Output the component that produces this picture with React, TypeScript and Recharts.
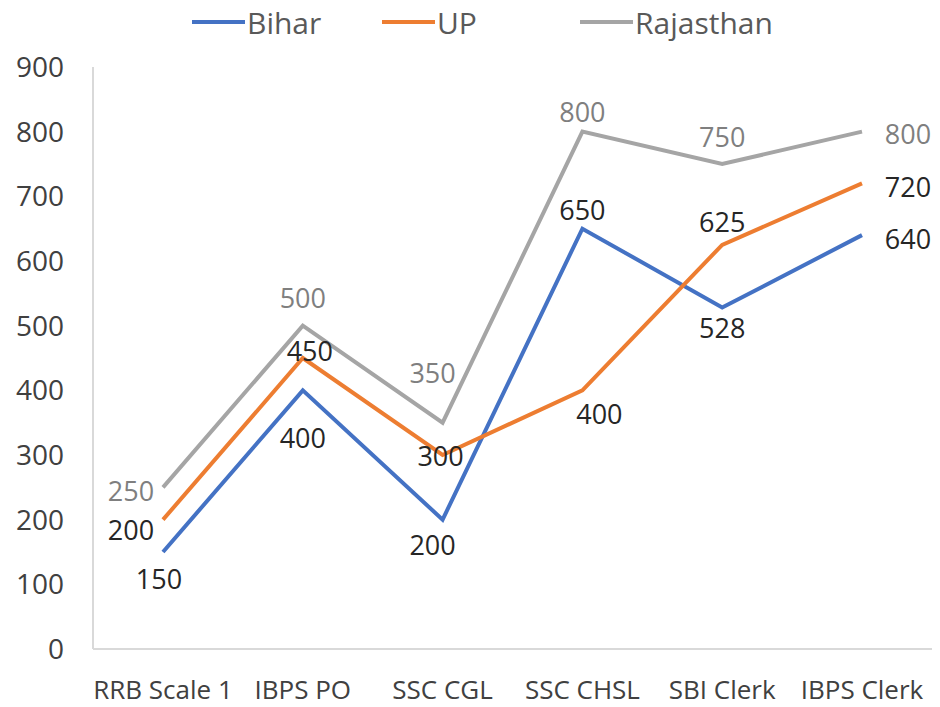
import React from 'react';
import { LineChart, Line, XAxis, YAxis, Legend, LabelList } from 'recharts';

const categories = ['RRB Scale 1', 'IBPS PO', 'SSC CGL', 'SSC CHSL', 'SBI Clerk', 'IBPS Clerk'];
const bihar = [150, 400, 200, 650, 528, 640];
const up = [200, 450, 300, 400, 625, 720];
const rajasthan = [250, 500, 350, 800, 750, 800];
const yTicks = [0, 100, 200, 300, 400, 500, 600, 700, 800, 900];
const seriesNames = ['Bihar', 'UP', 'Rajasthan'];

const data = categories.map((c, i) => ({ name: c, Bihar: bihar[i], UP: up[i], Rajasthan: rajasthan[i] }));

const FONT = '"Open Sans", Lato, sans-serif';
const COLORS: Record<string, string> = { Bihar: '#4472C4', UP: '#ED7D31', Rajasthan: '#A5A5A5' };
const LABEL_COLORS: Record<string, string> = { Bihar: '#262626', UP: '#262626', Rajasthan: '#7F7F7F' };

// label offsets (dx, dy) relative to each point
const LABEL_OFFSETS: Record<string, number[][]> = {
  Bihar: [[-4, 26], [0, 47], [-10, 25], [0, -19], [0, 20], [46, 3]],
  UP: [[-32, 10], [7, -8], [-2, 0], [17, 23], [0, -23], [46, 3]],
  Rajasthan: [[-32, 3], [0, -28], [-10, -50], [0, -20], [0, -28], [46, 2]],
};

const LEGEND_POS: Record<string, number> = { Bihar: 192, UP: 382, Rajasthan: 580 };

const makeLabel = (key: string) => (props: any) => {
  const x = props.x ?? props.viewBox?.x;
  const y = props.y ?? props.viewBox?.y;
  const index = props.index;
  if (x == null || y == null || index == null) return null;
  const [dx, dy] = LABEL_OFFSETS[key][index];
  return (
    <text
      x={x + dx}
      y={y + dy}
      textAnchor="middle"
      dominantBaseline="central"
      fill={LABEL_COLORS[key]}
      fontSize={27}
      fontFamily={FONT}
    >
      {props.value}
    </text>
  );
};

const LegendContent = () => (
  <div style={{ position: 'relative', width: 940, height: 67 }}>
    {seriesNames.map((n) => (
      <div
        key={n}
        style={{
          position: 'absolute',
          left: LEGEND_POS[n],
          top: 2,
          height: 40,
          display: 'flex',
          alignItems: 'center',
        }}
      >
        <span style={{ display: 'inline-block', width: 53, height: 4, background: COLORS[n] }} />
        <span style={{ marginLeft: 2, fontFamily: FONT, fontSize: 30, color: '#595959' }}>{n}</span>
      </div>
    ))}
  </div>
);

export default function App() {
  return (
    <div style={{ position: 'absolute', left: 0, top: 0, width: 940, height: 707, background: '#fff' }}>
      <LineChart width={940} height={707} data={data} margin={{ top: 0, right: 8, bottom: 0, left: 0 }}>
        <Legend
          verticalAlign="top"
          align="left"
          content={() => <LegendContent />}
          wrapperStyle={{ top: 0, left: 0, width: 940, height: 67 }}
        />
        <XAxis
          dataKey="name"
          height={58}
          padding={{ left: 70, right: 70 }}
          tickLine={false}
          tickSize={0}
          tickMargin={32}
          axisLine={{ stroke: '#D9D9D9', strokeWidth: 2 }}
          tick={{ fill: '#404040', fontSize: 26, fontFamily: FONT }}
          interval={0}
        />
        <YAxis
          width={93}
          domain={[0, 900]}
          ticks={yTicks}
          tickLine={false}
          tickSize={0}
          tickMargin={29}
          axisLine={{ stroke: '#D9D9D9', strokeWidth: 2 }}
          tick={{ fill: '#404040', fontSize: 28, fontFamily: FONT }}
        />
        {seriesNames.map((n) => (
          <Line
            key={n}
            type="linear"
            dataKey={n}
            stroke={COLORS[n]}
            strokeWidth={4}
            dot={false}
            isAnimationActive={false}
          >
            <LabelList dataKey={n} content={makeLabel(n)} />
          </Line>
        ))}
      </LineChart>
    </div>
  );
}
